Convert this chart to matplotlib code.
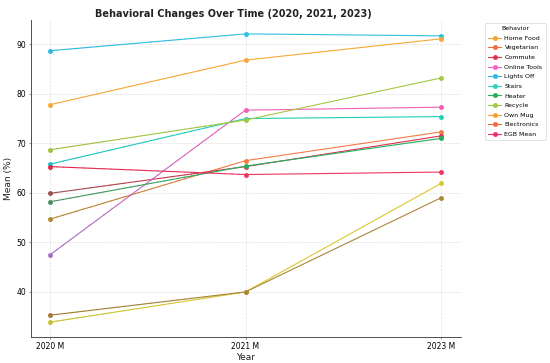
import numpy as np
import matplotlib
matplotlib.use("Agg")
import matplotlib.pyplot as plt
from matplotlib.collections import LineCollection
from matplotlib.colors import to_rgba
from matplotlib.lines import Line2D

years = ["2020 M", "2021 M", "2023 M"]
behaviors = ["Home Food", "Vegetarian", "Commute", "Online Tools", "Lights Off",
             "Stairs", "Heater", "Recycle", "Own Mug", "Electronics", "EGB Mean"]

home_food = [33.9, 40.0, 61.9]
vegetarian = [54.7, 66.5, 72.3]
commute = [59.9, 65.3, 71.5]
online_tools = [47.5, 76.7, 77.3]
lights_off = [88.7, 92.1, 91.7]
stairs = [65.8, 75.0, 75.4]
heater = [58.2, 65.4, 71.0]
recycle = [68.7, 74.7, 83.2]
own_mug = [77.8, 86.8, 91.1]
electronics = [35.3, 40.0, 59.0]
egb_mean = [65.3, 63.7, 64.2]

series = [home_food, vegetarian, commute, online_tools, lights_off, stairs,
          heater, recycle, own_mug, electronics, egb_mean]

legend_colors = ["#f8a030", "#f26a40", "#e23250", "#f462c0", "#30b8e8",
                 "#28d4bc", "#22b060", "#a0c840", "#f8a030", "#f26a40", "#f03060"]
line_colors = ["#d8c830", "#f47a48", "#e0304c", "#f060b8", "#30c0e0",
               "#22d0b8", "#22b060", "#a4c840", "#f8a838", "#a8883a", "#f03460"]
start_colors = ["#c8c030", "#b08830", "#9a5050", "#a070c8", "#30b8e0",
                "#20c0c0", "#4a9060", "#a0c040", "#f8a838", "#a07a30", "#e02848"]

fig = plt.figure(figsize=(11, 7.26), dpi=50)
ax = fig.add_axes([30.5 / 550, 1 - 337 / 363, 430 / 550, 317 / 363])

x = np.arange(len(years))
for vals, lc, sc in zip(series, line_colors, start_colors):
    vals = np.asarray(vals, dtype=float)
    ax.plot(x[1:], vals[1:], color=lc, lw=1.6, zorder=2)
    # gradient first segment (style only)
    t = np.linspace(0, 1, 30)
    xs = x[0] + (x[1] - x[0]) * t
    ys = vals[0] + (vals[1] - vals[0]) * t
    pts = np.column_stack([xs, ys]).reshape(-1, 1, 2)
    segs = np.concatenate([pts[:-1], pts[1:]], axis=1)
    c0 = np.array(to_rgba(sc))
    c1 = np.array(to_rgba(lc))
    tm = (t[:-1] + t[1:]) / 2
    cols = c0[None, :] * (1 - tm[:, None]) + c1[None, :] * tm[:, None]
    lcoll = LineCollection(segs, colors=cols, lw=1.6, zorder=2, capstyle="round")
    ax.add_collection(lcoll)
    ax.plot(x[1:], vals[1:], ls="none", marker="o", ms=6, color=lc, zorder=3)
    ax.plot(x[:1], vals[:1], ls="none", marker="o", ms=6, color=sc, zorder=3)

ax.set_xticks(x)
ax.set_xticklabels(years, fontsize=11)
ax.tick_params(axis="y", labelsize=11)
ax.tick_params(axis="both", length=3, color="#444444", width=0.8)
ax.set_xlim(-0.1, 2.1)
ax.set_ylim(30.9, 94.9)
ax.grid(True, color="#cccccc", linestyle="--", linewidth=1.0, alpha=0.6)
ax.set_axisbelow(True)
for s in ["top", "right"]:
    ax.spines[s].set_visible(False)
for s in ["left", "bottom"]:
    ax.spines[s].set_color("#333333")
    ax.spines[s].set_linewidth(1.2)

ax.set_title("Behavioral Changes Over Time (2020, 2021, 2023)", fontsize=14,
             fontweight="bold", color="#222222", pad=5, x=0.471)
ax.set_xlabel("Year", fontsize=13, color="#222222")
ax.set_ylabel("Mean (%)", fontsize=13, color="#222222")

handles = [Line2D([0], [0], color=c, marker="o", ms=6, lw=1.6) for c in legend_colors]
leg = ax.legend(handles, behaviors, title="Behavior", loc="upper left",
                bbox_to_anchor=(1.05, 1), fontsize=9, title_fontsize=9,
                labelspacing=0.68, handlelength=2.0, handletextpad=0.6,
                borderpad=0.5, frameon=True)
leg.get_frame().set_edgecolor("#cccccc")

fig.savefig("out.png", dpi=50)
